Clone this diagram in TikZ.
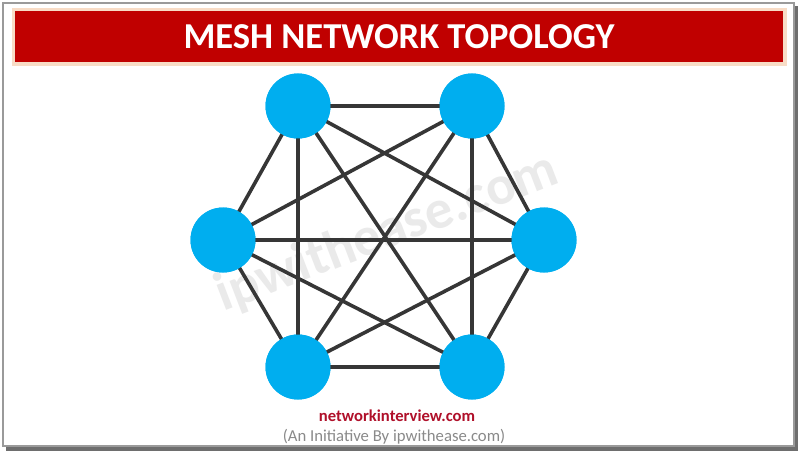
\documentclass[tikz,border=0pt]{standalone}
\usepackage{fontspec}
\setmainfont{Carlito}
\definecolor{titlered}{HTML}{C00000}
\definecolor{glow}{HTML}{F8DCC6}
\definecolor{nodeblue}{HTML}{00AEEF}
\definecolor{linkgray}{HTML}{363636}
\definecolor{brandred}{HTML}{B0102A}
\definecolor{textgray}{HTML}{8A8A8A}
\definecolor{wmgray}{HTML}{EAEAEA}
\definecolor{framegray}{HTML}{9A9A9A}
\definecolor{shadowgray}{HTML}{6E6E6E}
\begin{document}
\begin{tikzpicture}[x=1pt,y=-1pt,
  nd/.style={circle,fill=nodeblue,minimum size=65pt,inner sep=0pt},
  link/.style={line width=3.6pt,draw=linkgray}]
\useasboundingbox (0,0) rectangle (800,457);
\fill[white] (0,0) rectangle (800,457);
% frame
\draw[shadowgray,line width=3.5pt] (6,449) -- (796,449) -- (796,6);
\draw[framegray,line width=1.5pt] (3,3) rectangle (794,446);
% title bar
\fill[glow] (12,8) rectangle (787,66);
\fill[titlered] (15,11) rectangle (783,62);
\node[text=white,font=\bfseries\fontsize{36.5}{40}\selectfont] (title) at (399,37) {MESH NETWORK TOPOLOGY};
% watermark
\node[rotate=21,text=wmgray,font=\bfseries\fontsize{55}{55}\selectfont] (wm) at (387,233) {ipwithease.com};
% nodes
\node[nd] (tl) at (298,106) {};
\node[nd] (tr) at (472,106) {};
\node[nd] (l) at (223,240) {};
\node[nd] (r) at (544,240) {};
\node[nd] (bl) at (298,367) {};
\node[nd] (br) at (472,367) {};
% links
\foreach \a/\b in {tl/tr,tl/l,tl/r,tl/bl,tl/br,tr/l,tr/r,tr/bl,tr/br,l/r,l/bl,l/br,r/bl,r/br,bl/br}
  \draw[link] (\a.center) -- (\b.center);
% redraw nodes on top
\foreach \n in {tl,tr,l,r,bl,br}
  \fill[nodeblue] (\n.center) circle (32.5pt);
% footer
\node[text=brandred,font=\bfseries\fontsize{16.6}{18}\selectfont] (site) at (397,416) {networkinterview.com};
\node[text=textgray,font=\fontsize{16.7}{18}\selectfont] (init) at (394,437) {(An Initiative By ipwithease.com)};
\end{tikzpicture}
\end{document}
